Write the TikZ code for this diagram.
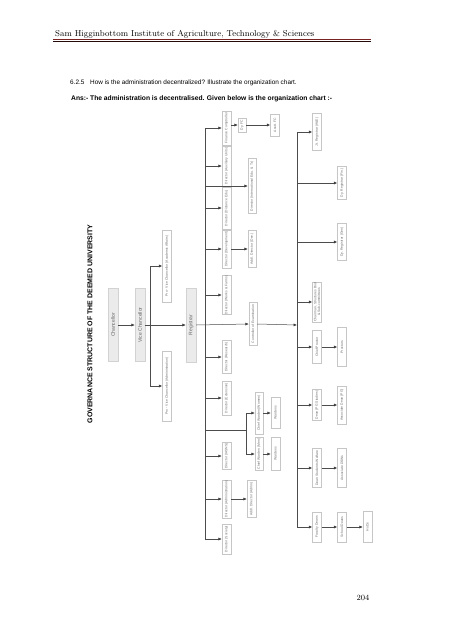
\documentclass[tikz,border=0pt]{standalone}
\usepackage{fontspec}
\newfontfamily\arial{Liberation Sans}
\usetikzlibrary{arrows.meta}
\definecolor{maroon}{RGB}{122,34,34}
\tikzset{
  unit/.style={draw=gray!45, rotate=90, minimum height=9pt, inner sep=0.4pt,
    font=\arial\fontsize{3.4}{3.9}\selectfont, text=gray!85!black, align=center},
  head/.style={draw=gray!35, fill=gray!16, rotate=90, minimum height=10pt, inner sep=0.5pt,
    font=\arial\fontsize{5}{6}\selectfont, text=gray!80!black},
  link/.style={draw=black!70, line width=0.5pt, -{Latex[length=3.4pt,width=3pt,fill=black]}},
  wire/.style={draw=black!70, line width=0.5pt},
}
\begin{document}
\begin{tikzpicture}[x=1pt,y=-1pt]
\useasboundingbox (0,0) rectangle (452,640);
% page head
\node[anchor=base west, inner sep=0, font=\fontsize{8.6}{10}\selectfont] (inst) at (55,36)
  {Sam Higginbottom Institute of Agriculture, Technology \& Sciences};
\draw[maroon, line width=1.2pt] (53,39.4) -- (371,39.4);
\draw[black!70!maroon, line width=0.5pt] (53,41) -- (371,41);
\node[anchor=base west, inner sep=0, font=\arial\fontsize{6.4}{7}\selectfont] (quest) at (70,84)
  {6.2.5\hspace{4pt} How is the administration decentralized? Illustrate the organization chart.};
\node[anchor=base west, inner sep=0, font=\arial\bfseries\fontsize{6.7}{7}\selectfont] (ans) at (71,100.5)
  {Ans:- The administration is decentralised. Given below is the organization chart :-};
\node[anchor=base, inner sep=0, font=\fontsize{8}{9}\selectfont] (pageno) at (363,600) {204};

% chart, turned on its side
\node[rotate=90, inner sep=0, font=\arial\bfseries\fontsize{7}{8}\selectfont] (title) at (90,324)
  {GOVERNANCE STRUCTURE OF THE DEEMED UNIVERSITY};
\node[head, minimum width=73pt] (chan) at (113,325) {Chancellor};
\node[head, minimum width=73pt] (vc) at (140,325) {Vice Chancellor};
\node[head, minimum width=74pt] (reg) at (191,325) {Registrar};
\node[unit, minimum width=72pt] (pvca) at (167,266) {Pro - Vice Chancellor (Academic Affairs)};
\node[unit, minimum width=70pt] (pvcb) at (167,386) {Pro - Vice Chancellor (Administration)};

\node[unit, minimum width=34pt] (fc) at (226.5,128) {Finance Comptroller};
\node[unit, minimum width=40pt] (aux) at (226.5,166) {Director (Auxiliary Units)};
\node[unit, minimum width=42pt] (dist) at (226.5,208) {Director (Distance Edu.)};
\node[unit, minimum width=38pt] (dev) at (226.5,249) {Director (Development)};
\node[unit, minimum width=37pt] (works) at (226.5,295) {Director (Works \& Farms)};
\node[unit, minimum width=33pt] (res) at (226.5,357) {Director (Research)};
\node[unit, minimum width=34pt] (ext) at (226.5,398) {Director (Extension)};
\node[unit, minimum width=27pt] (dias) at (226.5,456) {Director (IASNS)};
\node[unit, minimum width=38pt] (adm) at (226.5,499) {Director (Administration)};
\node[unit, minimum width=30pt] (soc) at (226.5,539) {Director (Society)};

\node[unit, minimum width=14pt, minimum height=8pt] (dyfc) at (242,125) {Dy. FC};
\node[unit, minimum width=22pt] (asfc) at (275,125) {Asstt. FC};
\node[unit, minimum width=55pt, minimum height=8pt] (intl) at (252,186) {Director (International Edu. \& Tr.)};
\node[unit, minimum width=37pt, minimum height=8pt] (adev) at (252,249) {Addl. Director (Dev.)};
\node[unit, minimum width=43pt, minimum height=8pt] (coe) at (253,324) {Controller of Examination};
\node[unit, minimum width=42pt, minimum height=8pt] (cww) at (259,413) {Chief Warden (Women)};
\node[unit, minimum width=33pt, minimum height=8pt] (cwm) at (259,454) {Chief Warden (Men)};
\node[unit, minimum width=31pt] (ww) at (275.5,413) {Wardens};
\node[unit, minimum width=33pt] (wm) at (275.5,454) {Wardens};
\node[unit, minimum width=37pt] (aadm) at (251.5,499) {Addl. Director (Admn)};

\node[unit, minimum width=37pt] (jra) at (317,132) {Jt. Registrar (A\&E)};
\node[unit, minimum width=40pt] (chs) at (317,302) {Chairman, Structures Bod\\\& Sub-committees};
\node[unit, minimum width=33pt] (cp) at (317,347) {Chief Proctor};
\node[unit, minimum width=31pt] (dpg) at (317,405) {Dean (PG Studies)};
\node[unit, minimum width=39pt] (dsw) at (317,468) {Dean Students Welfare};
\node[unit, minimum width=30pt] (fd) at (317,527) {Faculty Deans};
\node[unit, minimum width=33pt] (dyrf) at (342,183) {Dy. Registrar (Fin.)};
\node[unit, minimum width=37pt] (dyrg) at (342,242) {Dy. Registrar (Gen)};
\node[unit, minimum width=39pt] (pro) at (342,347) {Proctors};
\node[unit, minimum width=38pt] (adpg) at (342,405) {Associate Dean (PG)};
\node[unit, minimum width=39pt] (adsw) at (342,468) {Associate DSWs};
\node[unit, minimum width=30pt] (sd) at (342,527) {School Deans};
\node[unit, minimum width=31pt] (hod) at (367.5,527) {HoDs};

\coordinate (vcs) at (150.7,325);
\coordinate (b1) at (205,325);
\coordinate (b2) at (297,325);
\coordinate (wj) at (246.7,430);

\draw[link] (chan.south) -- (vc.north);
\draw[link] (vc.south) -- (reg.north);
\draw[link] (vcs) |- (pvca.north);
\draw[link] (vcs) |- (pvcb.north);
\draw[wire] (b1 |- fc.north) -- (b1 |- soc.north);
\draw[link] (reg.south) -- (coe.north);
\foreach \n in {fc,aux,dist,dev,works,res,ext,dias,adm,soc,intl}
  \draw[link] (b1 |- \n.north) -- (\n.north);
\draw[link] (fc.south |- dyfc.north) -- (dyfc.north);
\draw[link] (dyfc.south) -- (asfc.north);
\draw[link] (dev.south) -- (adev.north);
\draw[link] (adm.south) -- (aadm.north);
\draw[wire] (b1 |- wj) -- (wj);
\draw[link] (wj) |- (cww.north);
\draw[link] (wj) |- (cwm.north);
\draw[link] (cww.south) -- (ww.north);
\draw[link] (cwm.south) -- (wm.north);

\draw[link] (coe.south) -- (b2);
\draw[wire] (b2 |- jra.north) -- (b2 |- fd.north);
\foreach \n in {jra,dyrf,dyrg,chs,cp,dpg,dsw,fd}
  \draw[link] (b2 |- \n.north) -- (\n.north);
\draw[link] (cp.south) -- (pro.north);
\draw[link] (dpg.south) -- (adpg.north);
\draw[link] (dsw.south) -- (adsw.north);
\draw[link] (fd.south) -- (sd.north);
\draw[link] (sd.south) -- (hod.north);
\end{tikzpicture}
\end{document}
